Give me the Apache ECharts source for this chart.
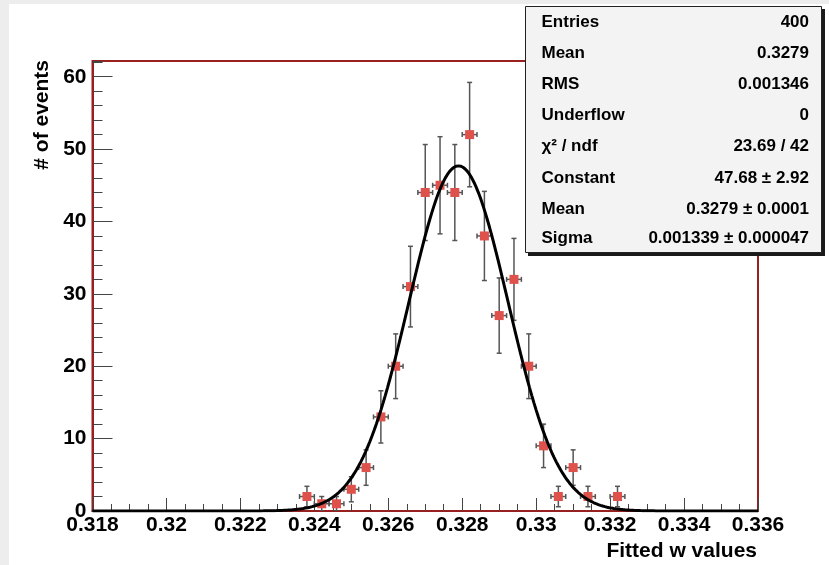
<!DOCTYPE html>
<html>
<head>
<meta charset="utf-8">
<script src="https://cdn.jsdelivr.net/npm/echarts@6/dist/echarts.min.js"></script>
<style>
html,body{margin:0;padding:0;}
#wrap{position:relative;width:829px;height:565px;background:#ededed;overflow:hidden;}
#paper{position:absolute;left:9px;top:4px;right:0;bottom:0;background:#ffffff;}
#chart{position:absolute;left:0;top:0;width:829px;height:565px;}
</style>
</head>
<body>
<div id="wrap"><div id="paper"></div><div id="chart"></div></div>
<script>
// ---- data ----
const binCenters = [0.3238, 0.3242, 0.3246, 0.3250, 0.3254, 0.3258, 0.3262, 0.3266, 0.3270, 0.3274, 0.3278,
                    0.3282, 0.3286, 0.3290, 0.3294, 0.3298, 0.3302, 0.3306, 0.3310, 0.3314, 0.3322];
const counts     = [2, 1, 1, 3, 6, 13, 20, 31, 44, 45, 44, 52, 38, 27, 32, 20, 9, 2, 6, 2, 2];
const countErrors = [1.41, 1, 1, 1.73, 2.45, 3.61, 4.47, 5.57, 6.63, 6.71, 6.63, 7.21, 6.16, 5.20, 5.66, 4.47, 3.00, 1.41, 2.45, 1.41, 1.41];
const binWidth = 0.0004;
// Gaussian fit parameters (from the stats box)
const fitConstant = 47.68;
const fitMean = 0.3279;
const fitSigma = 0.001339;
const xRange = [0.318, 0.336];
const yRange = [0, 62.17];
const statsLabels = ['Entries', 'Mean', 'RMS', 'Underflow', 'χ² / ndf', 'Constant', 'Mean', 'Sigma'];
const statsValues = ['400', '0.3279', '0.001346', '0', '23.69 / 42', '47.68 ± 2.92', '0.3279 ± 0.0001', '0.001339 ± 0.000047'];
const xTitle = 'Fitted w values';
const yTitle = '# of events';

// ---- build ----
const pointData = binCenters.map((x, i) => [x, counts[i], countErrors[i]]);
const fitCurve = [];
const nFit = 300;
for (let i = 0; i <= nFit; i++) {
  const x = xRange[0] + (xRange[1] - xRange[0]) * i / nFit;
  const z = (x - fitMean) / fitSigma;
  fitCurve.push([x, fitConstant * Math.exp(-0.5 * z * z)]);
}

const FONT = '"Liberation Sans", Arial, Helvetica, sans-serif';
const frameColor = '#9a1f1f';
const barColor = '#555555';
const markerColor = '#df524c';

function renderPoint(params, api) {
  const x = api.value(0), y = api.value(1), e = api.value(2);
  const c = api.coord([x, y]);
  const t = api.coord([x, y + e]);
  const b = api.coord([x, Math.max(0, y - e)]);
  const l = api.coord([x - binWidth / 2, y]);
  const r = api.coord([x + binWidth / 2, y]);
  const ls = {stroke: barColor, lineWidth: 1.5};
  const cap = 2.5;
  return {
    type: 'group',
    children: [
      {type: 'line', shape: {x1: c[0], y1: t[1], x2: c[0], y2: b[1]}, style: ls},
      {type: 'line', shape: {x1: c[0] - cap, y1: t[1], x2: c[0] + cap, y2: t[1]}, style: ls},
      {type: 'line', shape: {x1: c[0] - cap, y1: b[1], x2: c[0] + cap, y2: b[1]}, style: ls},
      {type: 'line', shape: {x1: l[0], y1: c[1], x2: r[0], y2: c[1]}, style: ls},
      {type: 'line', shape: {x1: l[0], y1: c[1] - cap, x2: l[0], y2: c[1] + cap}, style: ls},
      {type: 'line', shape: {x1: r[0], y1: c[1] - cap, x2: r[0], y2: c[1] + cap}, style: ls},
      {type: 'rect', shape: {x: c[0] - 4.5, y: c[1] - 4.5, width: 9, height: 9}, style: {fill: markerColor}}
    ]
  };
}

const graphics = [
  {type: 'text', x: 42, y: 60, rotation: Math.PI / 2,
   style: {text: yTitle, font: 'bold 21px ' + FONT, fill: '#000', align: 'right', verticalAlign: 'middle'}},
  {type: 'text', x: 757, y: 551,
   style: {text: xTitle, font: 'bold 21px ' + FONT, fill: '#000', align: 'right', verticalAlign: 'middle'}},
  {type: 'rect', shape: {x: 528, y: 9, width: 297, height: 247}, style: {fill: '#1a1a1a'}, z: 100},
  {type: 'rect', shape: {x: 525.5, y: 6.5, width: 296, height: 246}, style: {fill: '#f3f3f3', stroke: '#222', lineWidth: 1}, z: 101}
];
const rowY = [22.7, 53.3, 84.3, 115, 146.7, 178.3, 209.3, 238.3];
statsLabels.forEach((s, i) => {
  graphics.push({type: 'text', x: 541.5, y: rowY[i], z: 102,
    style: {text: s, font: 'bold 17px ' + FONT, fill: '#000', align: 'left', verticalAlign: 'middle'}});
  graphics.push({type: 'text', x: 809, y: rowY[i], z: 102,
    style: {text: statsValues[i], font: 'bold 17px ' + FONT, fill: '#000', align: 'right', verticalAlign: 'middle'}});
});

const chart = echarts.init(document.getElementById('chart'), null, {renderer: 'canvas'});
chart.setOption({
  animation: false,
  backgroundColor: 'transparent',
  grid: {left: 92.5, top: 61, right: 71, bottom: 54, show: true, backgroundColor: '#ffffff',
         borderColor: frameColor, borderWidth: 2, containLabel: false},
  xAxis: {
    type: 'value', min: xRange[0], max: xRange[1], interval: 0.002,
    axisLine: {show: true, lineStyle: {color: frameColor, width: 2}},
    axisTick: {show: true, inside: true, length: 13, lineStyle: {color: '#444', width: 1}},
    minorTick: {show: true, splitNumber: 4, length: 7, lineStyle: {color: '#444', width: 1}},
    splitLine: {show: false},
    axisLabel: {fontFamily: FONT, fontWeight: 'bold', fontSize: 21, color: '#000', margin: 4,
                formatter: v => String(parseFloat(v.toFixed(4)))}
  },
  yAxis: [{
    type: 'value', position: 'left', min: yRange[0], max: yRange[1], interval: 10,
    axisLine: {show: true, lineStyle: {color: frameColor, width: 2}},
    axisTick: {show: true, inside: true, length: 20, lineStyle: {color: '#444', width: 1}},
    splitLine: {show: false},
    axisLabel: {fontFamily: FONT, fontWeight: 'bold', fontSize: 21, color: '#000', margin: 6, showMaxLabel: false,
                formatter: v => (Math.abs(v % 10) < 1e-6 ? String(v) : '')}
  }, {
    type: 'value', position: 'left', min: yRange[0], max: yRange[1], interval: 2,
    axisLine: {show: false},
    axisTick: {show: true, inside: true, length: 10, lineStyle: {color: '#444', width: 1}},
    splitLine: {show: false},
    axisLabel: {show: false}
  }],
  series: [
    {type: 'custom', renderItem: renderPoint, data: pointData, xAxisIndex: 0, yAxisIndex: 0, z: 3,
     encode: {x: 0, y: 1}, clip: true},
    {type: 'line', data: fitCurve, xAxisIndex: 0, yAxisIndex: 0, showSymbol: false, symbol: 'none', z: 4,
     lineStyle: {color: '#000', width: 3}, clip: true}
  ],
  graphic: graphics
});
</script>
</body>
</html>
